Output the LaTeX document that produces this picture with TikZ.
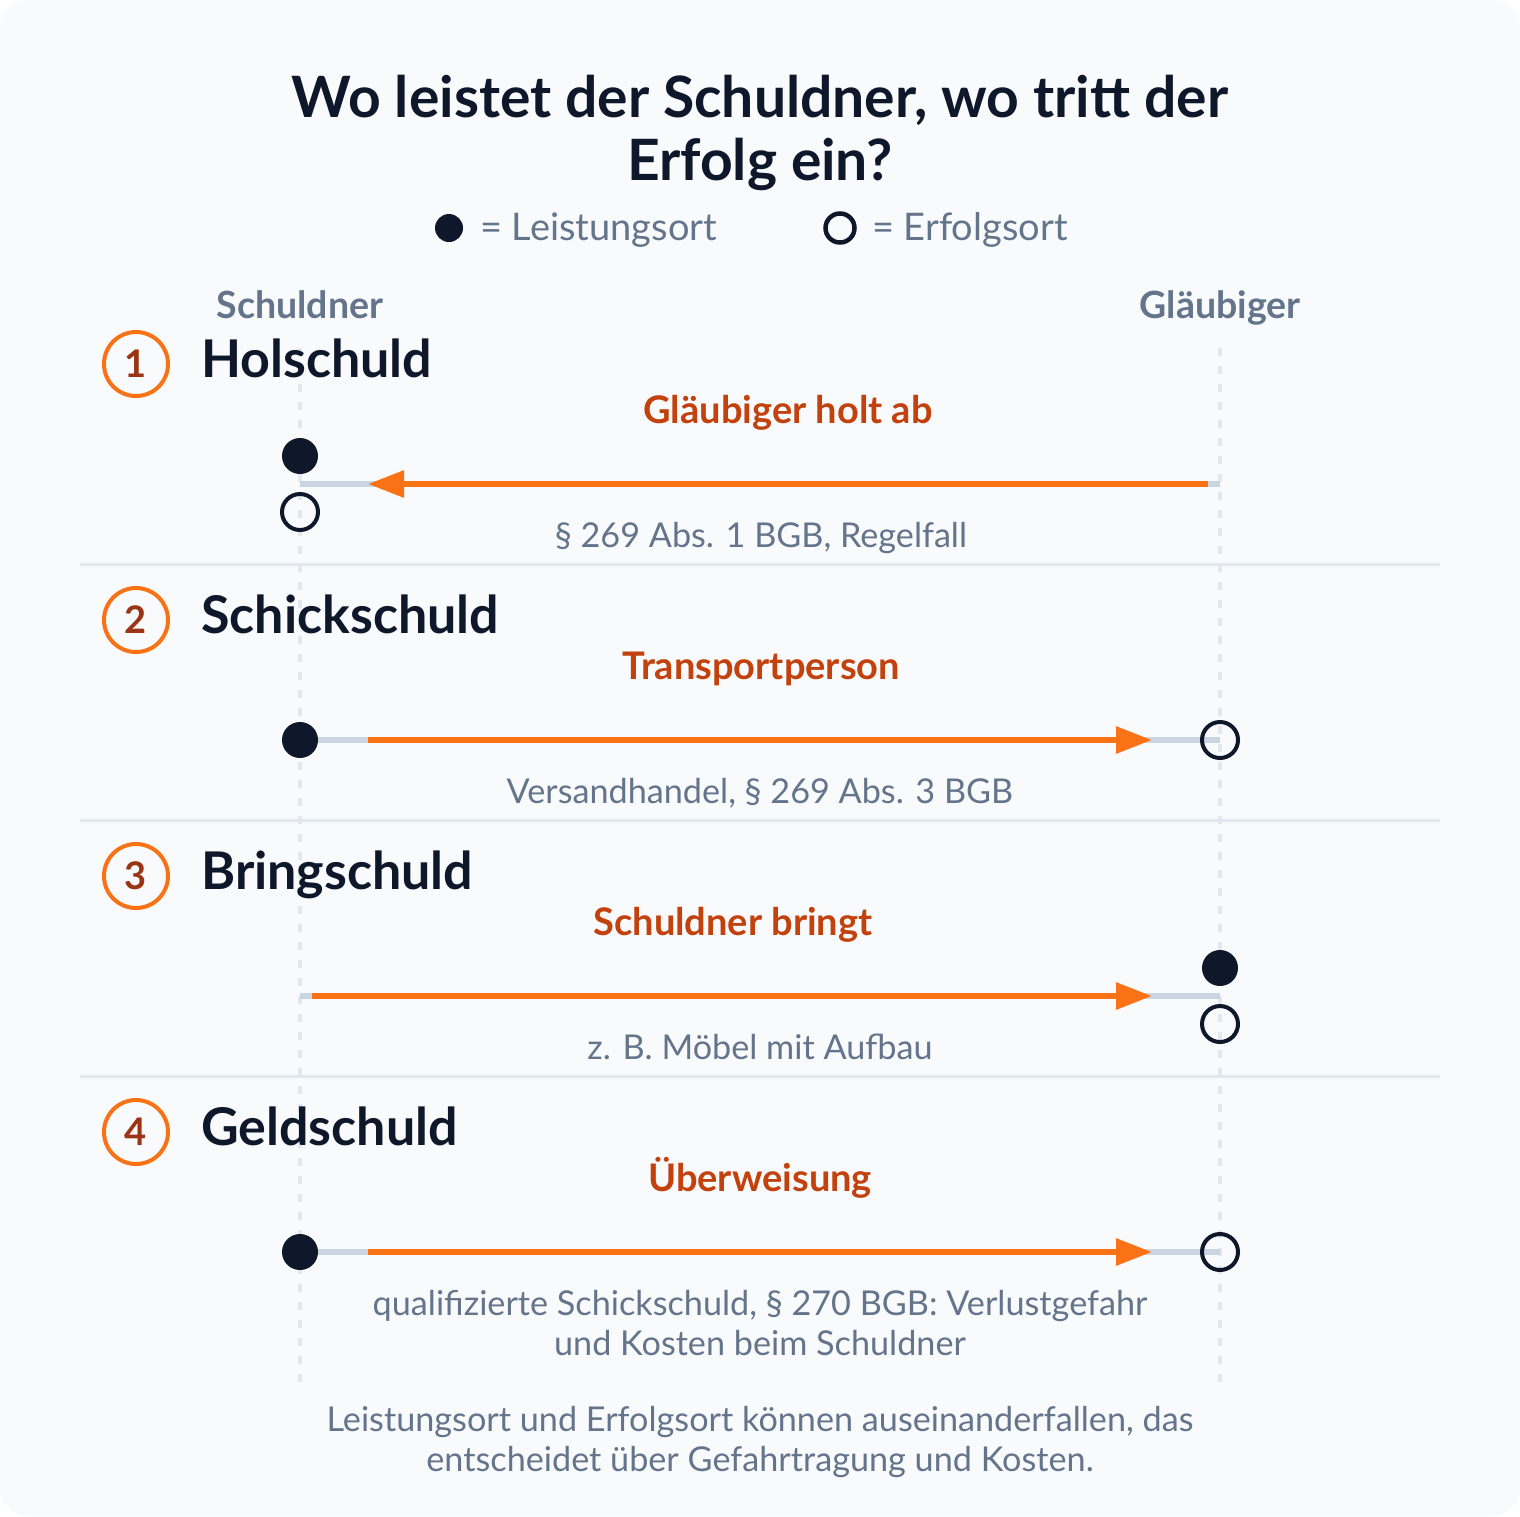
\documentclass[tikz,border=0pt]{standalone}
\usepackage{fontspec}
\setmainfont{Lato}
\usetikzlibrary{arrows.meta}
\definecolor{bgc}{HTML}{F8FAFC}
\definecolor{navy}{HTML}{0F172A}
\definecolor{slate}{HTML}{64748B}
\definecolor{oranged}{HTML}{C2410C}
\definecolor{orangel}{HTML}{F97316}
\definecolor{numc}{HTML}{9A3412}
\definecolor{sepc}{HTML}{E2E8F0}
\definecolor{basec}{HTML}{CBD5E1}
\tikzset{
  title/.style={anchor=base, text=navy, font=\fontsize{57}{64}\selectfont\bfseries, inner sep=0},
  legtxt/.style={anchor=base west, text=slate, font=\fontsize{38}{44}\selectfont, inner sep=0},
  collab/.style={anchor=base, text=slate, font=\fontsize{37.5}{44}\selectfont\bfseries, inner sep=0},
  heading/.style={anchor=base west, text=navy, font=\fontsize{52}{60}\selectfont\bfseries, inner sep=0},
  numcirc/.style={circle, draw=orangel, line width=4pt, minimum size=64pt, inner sep=0, text=numc, font=\fontsize{38}{40}\selectfont\bfseries},
  olabel/.style={anchor=base, text=oranged, font=\fontsize{38}{44}\selectfont\bfseries, inner sep=0},
  sublabel/.style={anchor=base, text=slate, font=\fontsize{34.2}{40}\selectfont, inner sep=0},
  fdot/.style={circle, fill=navy, minimum size=36pt, inner sep=0},
  odot/.style={circle, draw=navy, line width=4pt, minimum size=36pt, inner sep=0},
  guide/.style={draw=sepc, line width=3.5pt, dash pattern=on 8pt off 10pt},
  sep/.style={draw=sepc, line width=3pt},
  baseline/.style={draw=basec, line width=6pt},
  flow/.style={draw=orangel, line width=6pt, -{Triangle[length=36pt,width=26pt]}},
}
\begin{document}
\begin{tikzpicture}[x=1pt,y=-1pt]
\useasboundingbox (0,0) rectangle (1520,1516);
\fill[white] (0,0) rectangle (1520,1516);
\fill[bgc, rounded corners=28pt] (0,0) rectangle (1520,1516);

% title
\node[title] (t1) at (760,117) {Wo leistet der Schuldner, wo tritt der};
\node[title] (t2) at (760,180) {Erfolg ein?};

% legend
\node[fdot, minimum size=28pt] (lg1) at (449,228) {};
\node[legtxt] (lg1t) at (480,240) {= Leistungsort};
\node[odot, minimum size=29pt, line width=4.5pt] (lg2) at (840,228) {};
\node[legtxt] (lg2t) at (872,240) {= Erfolgsort};

% column labels
\node[collab] (cs) at (300,318) {Schuldner};
\node[collab] (cg) at (1220,318) {Gläubiger};

% guides
\coordinate (gs1) at (300,348);
\coordinate (gs2) at (300,1385);
\coordinate (gg1) at (1220,348);
\coordinate (gg2) at (1220,1385);
\draw[guide] (gs1) -- (gs2);
\draw[guide] (gg1) -- (gg2);

% separators
\foreach \y/\n in {564/a,820/b,1076/c}{
  \coordinate (sep\n1) at (80,\y);
  \coordinate (sep\n2) at (1440,\y);
  \draw[sep] (sep\n1) -- (sep\n2);
}

% ---------- Section 1
\node[numcirc] (n1) at (136,364) {1};
\node[heading] (h1) at (201,377) {Holschuld};
\node[olabel] (o1) at (788,423) {Gläubiger holt ab};
\coordinate (L1) at (300,484);
\coordinate (R1) at (1220,484);
\coordinate (A1s) at (1208,484);
\coordinate (A1e) at (368,484);
\draw[baseline] (L1) -- (R1);
\draw[flow] (A1s) -- (A1e);
\node[fdot] (d1f) at (300,456) {};
\node[odot] (d1o) at (300,512) {};
\node[sublabel] (s1) at (761,547) {§ 269 Abs. 1 BGB, Regelfall};

% ---------- Section 2
\node[numcirc] (n2) at (136,620) {2};
\node[heading] (h2) at (201,633) {Schickschuld};
\node[olabel] (o2) at (761,679) {Transportperson};
\coordinate (L2) at (300,740);
\coordinate (R2) at (1220,740);
\coordinate (A2s) at (368,740);
\coordinate (A2e) at (1152,740);
\draw[baseline] (L2) -- (R2);
\draw[flow] (A2s) -- (A2e);
\node[fdot] (d2f) at (L2) {};
\node[odot] (d2o) at (R2) {};
\node[sublabel] (s2) at (760,803) {Versandhandel, § 269 Abs. 3 BGB};

% ---------- Section 3
\node[numcirc] (n3) at (136,876) {3};
\node[heading] (h3) at (201,889) {Bringschuld};
\node[olabel] (o3) at (733,935) {Schuldner bringt};
\coordinate (L3) at (300,996);
\coordinate (R3) at (1220,996);
\coordinate (A3s) at (312,996);
\coordinate (A3e) at (1152,996);
\draw[baseline] (L3) -- (R3);
\draw[flow] (A3s) -- (A3e);
\node[fdot] (d3f) at (1220,968) {};
\node[odot] (d3o) at (1220,1024) {};
\node[sublabel] (s3) at (760,1059) {z. B. Möbel mit Aufbau};

% ---------- Section 4
\node[numcirc] (n4) at (136,1132) {4};
\node[heading] (h4) at (201,1145) {Geldschuld};
\node[olabel] (o4) at (760,1191) {Überweisung};
\coordinate (L4) at (300,1252);
\coordinate (R4) at (1220,1252);
\coordinate (A4s) at (368,1252);
\coordinate (A4e) at (1152,1252);
\draw[baseline] (L4) -- (R4);
\draw[flow] (A4s) -- (A4e);
\node[fdot] (d4f) at (L4) {};
\node[odot] (d4o) at (R4) {};
\node[sublabel] (s4a) at (760,1315) {qualifizierte Schickschuld, § 270 BGB: Verlustgefahr};
\node[sublabel] (s4b) at (760,1355) {und Kosten beim Schuldner};

% footer
\node[sublabel] (f1) at (760,1431) {Leistungsort und Erfolgsort können auseinanderfallen, das};
\node[sublabel] (f2) at (760,1471) {entscheidet über Gefahrtragung und Kosten.};
\end{tikzpicture}
\end{document}
